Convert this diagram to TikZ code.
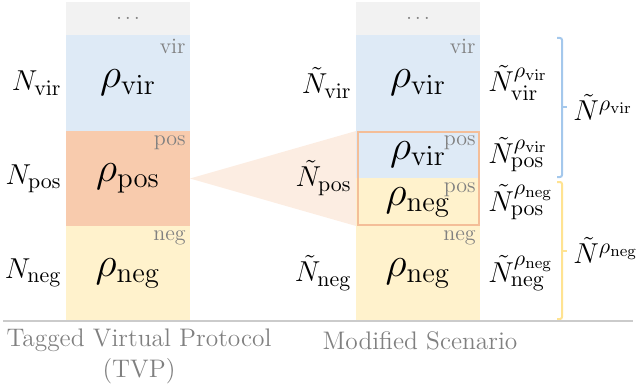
\documentclass[tikz,border=0pt]{standalone}
\usepackage{amsmath}
\usepackage{tikz}
\usetikzlibrary{calc,positioning}

\DeclareMathSizes{14.4}{14.4}{11}{8.5}

\definecolor{virblue}{HTML}{DEEAF6}
\definecolor{posorange}{HTML}{F8CBAD}
\definecolor{posline}{HTML}{F4BE98}
\definecolor{negyellow}{HTML}{FFF2CC}
\definecolor{dotgray}{HTML}{F2F2F2}
\definecolor{taggray}{HTML}{808080}
\definecolor{braceblue}{HTML}{A4C8EC}
\definecolor{braceyellow}{HTML}{FFE391}
\definecolor{rulegray}{HTML}{CBCBCB}

\begin{document}
\begin{tikzpicture}[x=0.5pt, y=-0.5pt]

    \tikzstyle{blk} = [rectangle, minimum width=62pt, inner sep=0pt, outer sep=0pt, text centered, font=\fontsize{19.5}{23}\selectfont]
    \tikzstyle{tag} = [anchor=north east, inner sep=2pt, text=taggray, font=\fontsize{11}{13}\selectfont]
    \tikzstyle{lbl} = [inner sep=0pt, font=\fontsize{14.4}{17}\selectfont]
    \tikzstyle{brace} = [line width=1pt, rounded corners=1pt]
    \tikzstyle{caption} = [text=taggray, font=\fontsize{12.7}{15.5}\selectfont, align=center]

    \useasboundingbox (0,0) rectangle (637,385);

    % Tagged Virtual Protocol
    \node (tvpdots) [blk, fill=dotgray, minimum height=16.5pt, font=\normalsize, text=taggray] at (128,18.5) {$\ldots$};
    \node (tvpvir)  [blk, fill=virblue, minimum height=48pt, below=0pt of tvpdots]     {$\rho_{\mathrm{vir}}$};
    \node (tvppos)  [blk, fill=posorange, minimum height=47.5pt, below=0pt of tvpvir]  {$\rho_{\mathrm{pos}}$};
    \node (tvpneg)  [blk, fill=negyellow, minimum height=47pt, below=0pt of tvppos]    {$\rho_{\mathrm{neg}}$};

    % Modified Scenario
    \node (msdots)   [blk, fill=dotgray, minimum height=16.5pt, font=\normalsize, text=taggray] at (418,18.5) {$\ldots$};
    \node (msvir)    [blk, fill=virblue, minimum height=48pt, below=0pt of msdots]       {$\rho_{\mathrm{vir}}$};
    \node (msposvir) [blk, fill=virblue, minimum height=23.5pt, below=0pt of msvir]      {$\rho_{\mathrm{vir}}$};
    \node (msposneg) [blk, fill=negyellow, minimum height=24pt, below=0pt of msposvir]   {$\rho_{\mathrm{neg}}$};
    \node (msneg)    [blk, fill=negyellow, minimum height=47pt, below=0pt of msposneg]   {$\rho_{\mathrm{neg}}$};

    \fill[posorange!35] (tvppos.east) -- (msposvir.north west) -- (msposneg.south west) -- cycle;
    \draw[posline, line width=1pt] ($(msposvir.north west)+(1.5,1.5)$) rectangle ($(msposneg.south east)+(-1.5,-1.5)$);

    \node (tvpvirtag)    [tag] at (tvpvir.north east)    {vir};
    \node (tvppostag)    [tag] at (tvppos.north east)    {pos};
    \node (tvpnegtag)    [tag] at (tvpneg.north east)    {neg};
    \node (msvirtag)     [tag] at (msvir.north east)     {vir};
    \node (msposvirtag)  [tag] at (msposvir.north east)  {pos};
    \node (msposnegtag)  [tag] at (msposneg.north east)  {pos};
    \node (msnegtag)     [tag] at (msneg.north east)     {neg};

    \node (nvir) [lbl, left=2pt of tvpvir] {$N_{\mathrm{vir}}$};
    \node (npos) [lbl, left=2pt of tvppos] {$N_{\mathrm{pos}}$};
    \node (nneg) [lbl, left=2pt of tvpneg] {$N_{\mathrm{neg}}$};

    \node (tnvir) [lbl, left=2pt of msvir]                {$\tilde{N}_{\mathrm{vir}}$};
    \node (tnpos) [lbl, left=2pt of msposvir.south west]  {$\tilde{N}_{\mathrm{pos}}$};
    \node (tnneg) [lbl, left=2pt of msneg]                {$\tilde{N}_{\mathrm{neg}}$};

    \node (tnvirvir) [lbl, right=4pt of msvir]     {$\tilde{N}^{\rho_{\mathrm{vir}}}_{\mathrm{vir}}$};
    \node (tnposvir) [lbl, right=4pt of msposvir]  {$\tilde{N}^{\rho_{\mathrm{vir}}}_{\mathrm{pos}}$};
    \node (tnposneg) [lbl, right=4pt of msposneg]  {$\tilde{N}^{\rho_{\mathrm{neg}}}_{\mathrm{pos}}$};
    \node (tnnegneg) [lbl, right=4pt of msneg]     {$\tilde{N}^{\rho_{\mathrm{neg}}}_{\mathrm{neg}}$};

    % braces
    \coordinate (virtip) at (567,107.5);
    \coordinate (negtip) at (567,250.5);
    \draw[brace, braceblue] (557,38) -- (562,38) -- (562,177) -- (557,177);
    \draw[brace, braceblue] (562,107.5) -- (virtip);
    \draw[brace, braceyellow] (557,182) -- (562,182) -- (562,319) -- (557,319);
    \draw[brace, braceyellow] (562,250.5) -- (negtip);
    \node (nrhovir) [lbl, anchor=west, inner sep=3pt] at (virtip) {$\tilde{N}^{\rho_{\mathrm{vir}}}$};
    \node (nrhoneg) [lbl, anchor=west, inner sep=3pt] at (negtip) {$\tilde{N}^{\rho_{\mathrm{neg}}}$};

    \draw[rulegray, line width=1pt] (3,321) -- (633,321);

    \node (tvpcap) [caption] at (139,356) {Tagged Virtual Protocol\\(TVP)};
    \node (mscap)  [caption] at (420,341) {Modified Scenario};
\end{tikzpicture}
\end{document}
